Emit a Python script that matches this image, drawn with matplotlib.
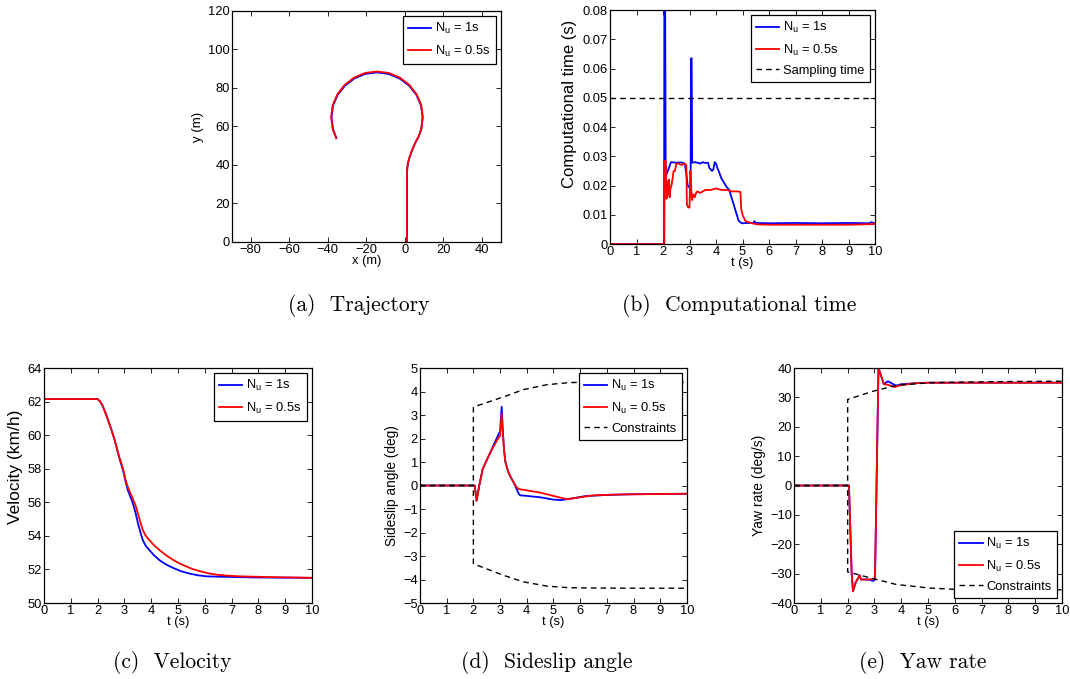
import numpy as np
import matplotlib
matplotlib.use('Agg')
import matplotlib.pyplot as plt
from matplotlib.ticker import FuncFormatter

plt.rcParams['font.family'] = ['Liberation Sans', 'DejaVu Sans']
plt.rcParams['mathtext.fontset'] = 'custom'
plt.rcParams['mathtext.rm'] = 'Liberation Sans'
plt.rcParams['mathtext.it'] = 'Liberation Sans:italic'
plt.rcParams['font.size'] = 9.3

# (a) trajectory
traj_x_1s = [1.2, 1.2, 1.2, 1.3, 1.7, 2.5, 3.6, 4.8, 6.0, 7.2, 8.6, 9.3, 8.5, 6.1, 2.3,
             -2.6, -8.3, -14.4, -20.5, -26.2, -31.0, -34.8, -37.2, -38.0, -37.2, -35.5]
traj_y_1s = [0, 20, 35, 38, 41, 44, 47, 50, 52.5, 54.7, 58.6, 64.8, 70.9, 76.4, 81.2,
             84.9, 87.3, 88.1, 87.3, 84.9, 81.2, 76.5, 70.9, 64.8, 58.6, 54.0]
traj_x_05s = [1.2, 1.2, 1.2, 1.3, 1.7, 2.5, 3.6, 4.8, 6.0, 7.2, 8.6, 9.4, 8.6, 6.2, 2.4,
              -2.5, -8.2, -14.4, -20.6, -26.3, -31.2, -35.0, -37.4, -38.2, -37.4, -35.6]
traj_y_05s = [0, 20, 35, 38, 41, 44, 47, 50, 52.5, 54.7, 58.6, 64.8, 71.0, 76.7, 81.6,
              85.4, 87.8, 88.6, 87.8, 85.4, 81.6, 76.7, 71.0, 64.8, 58.6, 54.0]

# (b) computational time
ct_t_1s = [0, 2.04, 2.05, 2.08, 2.1, 2.12, 2.3, 2.5, 2.7, 2.82, 2.88, 2.93, 2.98, 3.04,
           3.06, 3.08, 3.1, 3.2, 3.3, 3.4, 3.5, 3.6, 3.7, 3.75, 3.8, 3.85, 3.9, 3.95,
           4.0, 4.05, 4.1, 4.2, 4.3, 4.4, 4.5, 4.55, 4.65, 4.75, 4.85, 4.95, 5.0, 5.2,
           5.4, 5.45, 5.5, 6.0, 7.0, 8.0, 9.0, 9.8, 9.85, 9.95, 10]
ct_v_1s = [0, 0, 0.085, 0.085, 0.028, 0.0235, 0.028, 0.0278, 0.0279, 0.0275, 0.024, 0.02,
           0.0195, 0.019, 0.0635, 0.0635, 0.0278, 0.028, 0.0278, 0.0275, 0.028, 0.0277,
           0.0278, 0.026, 0.0255, 0.025, 0.0255, 0.028, 0.0275, 0.026, 0.025, 0.0225, 0.021,
           0.0195, 0.0185, 0.017, 0.014, 0.011, 0.008, 0.0072, 0.0071, 0.0072, 0.0072, 0.0078,
           0.0072, 0.0071, 0.0072, 0.0071, 0.0072, 0.0071, 0.0075, 0.0072, 0.0068]
ct_t_05s = [0, 2.05, 2.06, 2.1, 2.12, 2.13, 2.15, 2.18, 2.2, 2.23, 2.25, 2.28, 2.32, 2.37,
            2.4, 2.45, 2.5, 2.6, 2.7, 2.8, 2.88, 2.9, 2.95, 3.0, 3.03, 3.05, 3.08, 3.1,
            3.15, 3.2, 3.25, 3.3, 3.4, 3.5, 3.6, 3.8, 4.0, 4.2, 4.4, 4.6, 4.8, 4.92, 4.95,
            5.0, 5.1, 5.2, 5.4, 5.6, 6.0, 7.0, 8.0, 9.0, 9.9, 10]
ct_v_05s = [0, 0, 0.0285, 0.0285, 0.02, 0.0155, 0.016, 0.0215, 0.017, 0.022, 0.016, 0.019,
            0.02, 0.023, 0.025, 0.025, 0.0275, 0.0275, 0.027, 0.0275, 0.027, 0.0135, 0.0125,
            0.0125, 0.025, 0.023, 0.016, 0.015, 0.017, 0.016, 0.0175, 0.018, 0.0175, 0.018,
            0.0185, 0.0185, 0.019, 0.0185, 0.0185, 0.018, 0.018, 0.0178, 0.012, 0.01, 0.008,
            0.0075, 0.007, 0.0067, 0.0066, 0.0066, 0.0066, 0.0066, 0.0068, 0.007]
sampling_time = 0.05

# (c) velocity
vel_t_1s = [0, 2.0, 2.1, 2.2, 2.33, 2.5, 2.64, 2.8, 2.95, 3.05, 3.13, 3.22, 3.32, 3.42,
            3.51, 3.6, 3.69, 3.8, 3.94, 4.1, 4.32, 4.55, 4.81, 5.1, 5.44, 5.75, 6.06, 6.5,
            7.05, 8.0, 10]
vel_v_1s = [62.15, 62.15, 62.0, 61.7, 61.18, 60.4, 59.69, 58.7, 57.9, 57.2, 56.71, 56.35,
            55.92, 55.35, 54.73, 54.2, 53.73, 53.4, 53.14, 52.85, 52.54, 52.3, 52.1, 51.9,
            51.75, 51.65, 51.59, 51.57, 51.55, 51.52, 51.5]
vel_t_05s = [0, 2.0, 2.1, 2.2, 2.33, 2.5, 2.64, 2.8, 2.95, 3.05, 3.13, 3.22, 3.32, 3.42,
             3.51, 3.6, 3.69, 3.8, 3.94, 4.1, 4.32, 4.55, 4.81, 5.05, 5.31, 5.55, 5.81,
             6.1, 6.43, 6.85, 7.3, 8.3, 10]
vel_v_05s = [62.15, 62.15, 62.0, 61.7, 61.18, 60.4, 59.69, 58.75, 58.0, 57.3, 56.9, 56.55,
             56.2, 55.8, 55.3, 54.8, 54.33, 54.0, 53.73, 53.45, 53.14, 52.85, 52.58, 52.36,
             52.18, 52.02, 51.9, 51.78, 51.69, 51.63, 51.59, 51.55, 51.5]

# (d) sideslip angle
ss_t_1s = [0, 2.05, 2.12, 2.22, 2.35, 2.55, 2.75, 2.95, 3.0, 3.06, 3.1, 3.15, 3.2, 3.3,
           3.4, 3.5, 3.6, 3.7, 3.75, 3.9, 4.5, 5.0, 5.3, 5.7, 6.2, 7.0, 8.0, 10]
ss_v_1s = [0, 0, -0.65, 0.0, 0.7, 1.2, 1.7, 2.2, 2.3, 3.35, 2.4, 1.5, 1.0, 0.6, 0.35,
           0.15, -0.1, -0.35, -0.42, -0.43, -0.5, -0.6, -0.62, -0.55, -0.45, -0.4, -0.37,
           -0.35]
ss_t_05s = [0, 2.05, 2.12, 2.22, 2.35, 2.55, 2.75, 2.95, 3.0, 3.06, 3.1, 3.15, 3.2, 3.3,
            3.4, 3.5, 3.6, 3.7, 4.5, 5.2, 5.5, 6.0, 6.5, 7.5, 10]
ss_v_05s = [0, 0, -0.65, 0.0, 0.7, 1.2, 1.65, 2.05, 2.1, 3.05, 2.3, 1.5, 1.0, 0.6, 0.35,
            0.15, -0.05, -0.15, -0.3, -0.5, -0.58, -0.5, -0.42, -0.38, -0.35]
ss_con_t = [0, 2.0, 2.0, 3.125, 3.875, 4.75, 5.6, 6.5, 8.0, 10]
ss_con_up = [0, 0, 3.34, 3.77, 4.08, 4.29, 4.38, 4.4, 4.4, 4.4]
ss_con_lo = [0, 0, -3.33, -3.82, -4.1, -4.28, -4.35, -4.36, -4.37, -4.37]

# (e) yaw rate
yr_t_1s = [0, 2.05, 2.1, 2.15, 2.2, 2.3, 2.45, 2.5, 2.6, 2.8, 2.95, 3.02, 3.15, 3.35,
           3.5, 3.8, 4.0, 4.5, 5.0, 10]
yr_v_1s = [0, 0, -15, -30, -36, -33, -30.6, -32, -32, -32, -32.5, -32, 40, 34.5, 35.5,
           34.0, 34.5, 34.8, 35, 35]
yr_t_05s = [0, 2.05, 2.1, 2.15, 2.2, 2.3, 2.45, 2.5, 2.6, 2.8, 2.95, 3.02, 3.15, 3.35,
            3.5, 3.75, 4.0, 4.5, 5.0, 10]
yr_v_05s = [0, 0, -15, -30, -36, -33, -30.6, -32, -32, -32, -31.8, -31.5, 40, 34.5, 34.3,
            33.5, 34.2, 34.8, 35, 35]
yr_con_t = [0, 2.0, 2.0, 2.95, 3.82, 5.06, 6.3, 8.0, 10]
yr_con_up = [0, 0, 29.3, 32.1, 34.1, 35.0, 35.2, 35.4, 35.5]
yr_con_lo = [0, 0, -29.4, -31.7, -33.7, -34.9, -35.5, -35.5, -35.5]

lab1 = r'N$_\mathrm{u}$ = 1s'
lab2 = r'N$_\mathrm{u}$ = 0.5s'
lw = 1.3
dash = (4, 3)

fmt = FuncFormatter(lambda v, p: f'{v:g}'.replace('-', '\u2212'))

fig = plt.figure(figsize=(10.70, 6.79), dpi=100)


def style(ax, xt, yt, xl, yl, xlab, ylab, ysize):
    ax.set_xlim(*xl)
    ax.set_ylim(*yl)
    ax.set_xticks(xt)
    ax.set_yticks(yt)
    ax.xaxis.set_major_formatter(fmt)
    ax.yaxis.set_major_formatter(fmt)
    ax.tick_params(direction='in', length=3.5, width=0.6, top=True, right=True, pad=1.5,
                   labelsize=9.3)
    for s in ax.spines.values():
        s.set_linewidth(0.9)
    ax.set_xlabel(xlab, labelpad=-0.5, fontsize=9.3)
    ax.set_ylabel(ylab, labelpad=3, fontsize=ysize)


def legend(ax, loc):
    lg = ax.legend(loc=loc, fancybox=False, framealpha=1, edgecolor='black',
                   fontsize=9.3, handlelength=1.8, handletextpad=0.3, borderaxespad=0.4,
                   borderpad=0.4, labelspacing=0.55)
    lg.get_frame().set_linewidth(0.9)


# (a)
ax = fig.add_axes([0.2168, 0.6436, 0.2514, 0.3402])
ax.plot(traj_x_1s, traj_y_1s, color='blue', lw=lw, label=lab1)
ax.plot(traj_x_05s, traj_y_05s, color='red', lw=lw, label=lab2)
style(ax, range(-80, 41, 20), range(0, 121, 20), (-89.7, 50), (0, 120), 'x (m)', 'y (m)',
      9.5)
legend(ax, 'upper right')

# (b)
ax = fig.add_axes([0.5701, 0.6406, 0.2477, 0.3446])
ax.plot(ct_t_1s, ct_v_1s, color='blue', lw=lw, label=lab1)
ax.plot(ct_t_05s, ct_v_05s, color='red', lw=lw, label=lab2)
ax.axhline(sampling_time, color='black', lw=1, dashes=dash, label='Sampling time')
style(ax, range(0, 11), np.arange(0, 0.081, 0.01), (0, 10), (0, 0.08), 't (s)',
      'Computational time (s)', 12)
ax.yaxis.set_label_coords(-0.125, 0.60)
legend(ax, 'upper right')

# (c)
ax = fig.add_axes([0.0411, 0.1119, 0.2505, 0.3461])
ax.plot(vel_t_1s, vel_v_1s, color='blue', lw=lw, label=lab1)
ax.plot(vel_t_05s, vel_v_05s, color='red', lw=lw, label=lab2)
style(ax, range(0, 11), range(50, 65, 2), (0, 10), (50, 64), 't (s)', 'Velocity (km/h)',
      12.5)
ax.yaxis.set_label_coords(-0.078, 0.58)
legend(ax, 'upper right')

# (d)
ax = fig.add_axes([0.3925, 0.1119, 0.2495, 0.3461])
ax.plot(ss_t_1s, ss_v_1s, color='blue', lw=lw, label=lab1)
ax.plot(ss_t_05s, ss_v_05s, color='red', lw=lw, label=lab2)
ax.plot(ss_con_t, ss_con_up, color='black', lw=1, dashes=dash, label='Constraints')
ax.plot(ss_con_t, ss_con_lo, color='black', lw=1, dashes=dash)
style(ax, range(0, 11), range(-5, 6), (0, 10), (-5, 5), 't (s)', 'Sideslip angle (deg)',
      9.8)
legend(ax, 'upper right')

# (e)
ax = fig.add_axes([0.7421, 0.1119, 0.2505, 0.3461])
ax.plot(yr_t_1s, yr_v_1s, color='blue', lw=lw, label=lab1)
ax.plot(yr_t_05s, yr_v_05s, color='red', lw=lw, label=lab2)
ax.plot(yr_con_t, yr_con_up, color='black', lw=1, dashes=dash, label='Constraints')
ax.plot(yr_con_t, yr_con_lo, color='black', lw=1, dashes=dash)
style(ax, range(0, 11), range(-40, 41, 10), (0, 10), (-40, 40), 't (s)', 'Yaw rate (deg/s)',
      10)
legend(ax, 'lower right')

captions = ['(a)  Trajectory', '(b)  Computational time', '(c)  Velocity',
            '(d)  Sideslip angle', '(e)  Yaw rate']
cap_pos = [(0.3355, 0.5508), (0.6907, 0.5508), (0.1607, 0.0236), (0.5112, 0.0236),
           (0.8626, 0.0236)]
for txt, (cx, cy) in zip(captions, cap_pos):
    fig.text(cx, cy, txt, family='cmr10', fontsize=15.5, ha='center', va='center')

fig.savefig('out.png', dpi=100)
